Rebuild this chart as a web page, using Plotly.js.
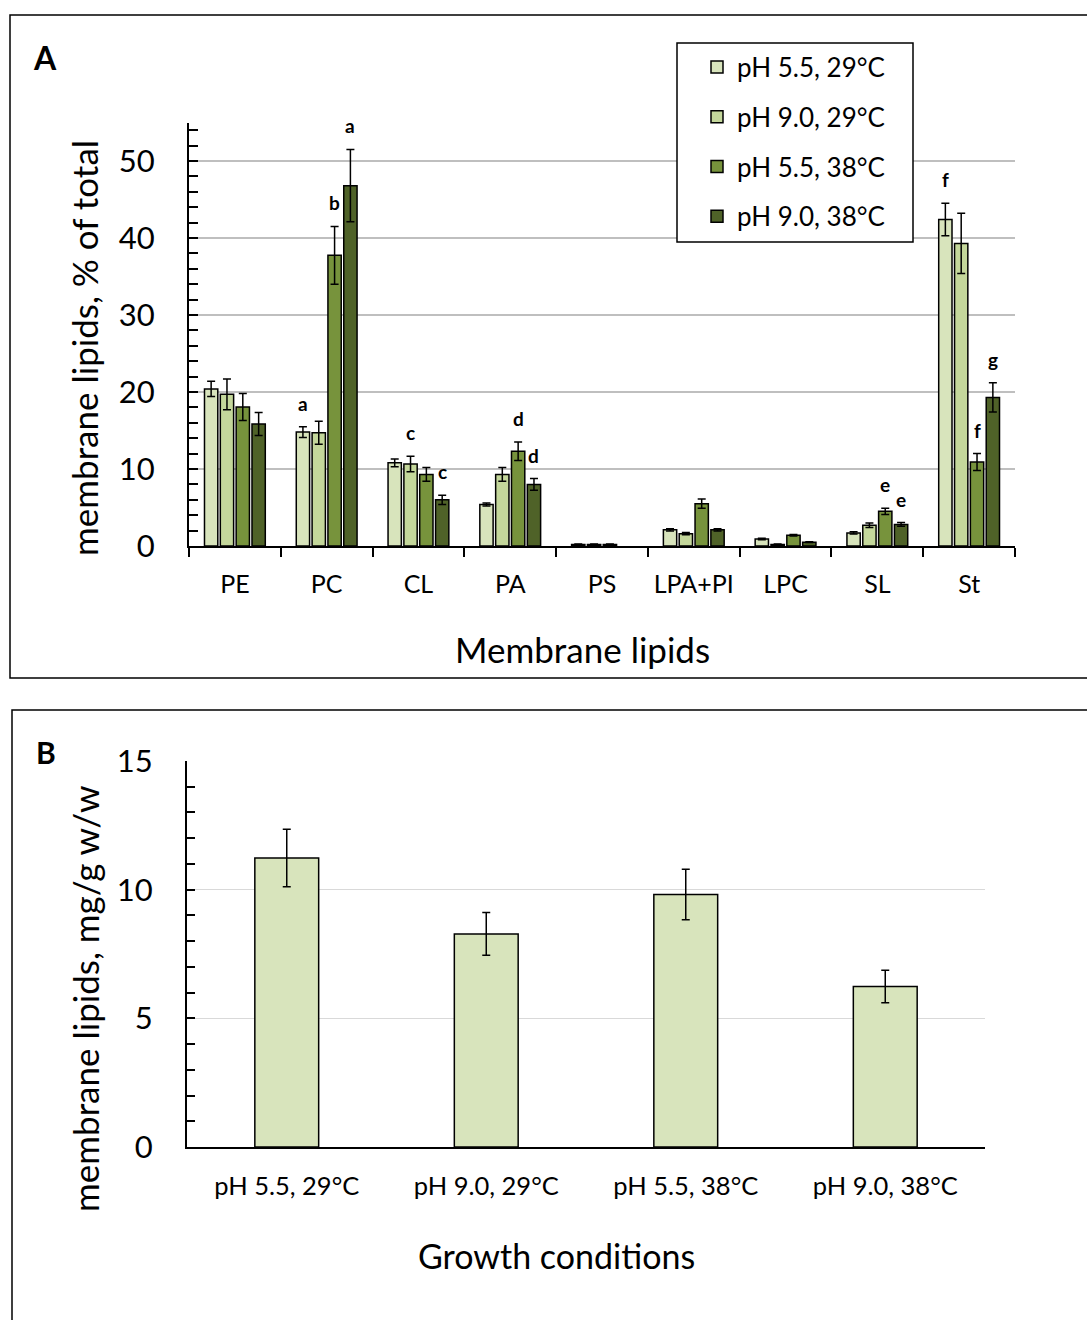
<!DOCTYPE html>
<html>
<head>
<meta charset="utf-8">
<script src="https://cdn.plot.ly/plotly-3.0.1.min.js"></script>
<style>html,body{margin:0;padding:0;background:#fff;}#chart{width:1087px;height:1320px;}</style>
</head>
<body>
<div id="chart"></div>
<script>
// ---------- Panel A data ----------
const lipids = ['PE','PC','CL','PA','PS','LPA+PI','LPC','SL','St'];
const seriesNames = ['pH 5.5, 29°C','pH 9.0, 29°C','pH 5.5, 38°C','pH 9.0, 38°C'];
const s1 = [20.4, 14.8, 10.8, 5.4, 0.2, 2.1, 0.9, 1.7, 42.4];
const s1Err = [1.0, 0.7, 0.5, 0.2, 0.05, 0.15, 0.1, 0.15, 2.1];
const s2 = [19.7, 14.7, 10.65, 9.3, 0.2, 1.6, 0.2, 2.7, 39.3];
const s2Err = [2.0, 1.5, 1.0, 0.9, 0.05, 0.15, 0.05, 0.3, 3.9];
const s3 = [18.05, 37.75, 9.3, 12.3, 0.2, 5.5, 1.4, 4.5, 10.9];
const s3Err = [1.75, 3.75, 0.9, 1.2, 0.05, 0.6, 0.1, 0.4, 1.1];
const s4 = [15.85, 46.8, 6.0, 8.0, null, 2.1, 0.5, 2.8, 19.3];
const s4Err = [1.5, 4.7, 0.6, 0.75, 0, 0.15, 0.05, 0.25, 1.9];
const seriesColors = ['#d8e4bc','#c4d79b','#77933c','#4f6228'];

// significance letters (category index, series index, text)
const letterCat = [1, 1, 1, 2, 2, 3, 3, 7, 7, 8, 8, 8];
const letterSeries = [0, 2, 3, 1, 3, 2, 3, 2, 3, 0, 2, 3];
const letterText = ['a','b','a','c','c','d','d','e','e','f','f','g'];

// ---------- Panel B data ----------
const conditions = ['pH 5.5, 29°C','pH 9.0, 29°C','pH 5.5, 38°C','pH 9.0, 38°C'];
const totals = [11.23, 8.28, 9.81, 6.24];
const totalsErr = [1.12, 0.83, 0.98, 0.63];

// ---------- layout helpers ----------
const W = 1087, H = 1320;
const px = v => v / W;
const py = v => 1 - v / H;
const FONT = 'Lato, "Open Sans", sans-serif';
const bargap = 0.31;

const allVals = [s1, s2, s3, s4];
const allErr = [s1Err, s2Err, s3Err, s4Err];

const traces = allVals.map((vals, i) => ({
  type: 'bar',
  x: lipids,
  y: vals,
  name: seriesNames[i],
  legendgroup: 'g' + i,
  xaxis: 'x', yaxis: 'y',
  marker: {color: seriesColors[i], line: {color: '#000', width: 1.5}},
  error_y: {type: 'data', array: allErr[i], visible: true, color: '#000', thickness: 1.5, width: 4}
}));

traces.push({
  type: 'bar',
  x: conditions,
  y: totals,
  xaxis: 'x2', yaxis: 'y2',
  width: 0.32,
  showlegend: false,
  marker: {color: '#d8e4bc', line: {color: '#000', width: 1.5}},
  error_y: {type: 'data', array: totalsErr, visible: true, color: '#000', thickness: 1.5, width: 4}
});

const slot = (1 - bargap) / 4;
const letterAnns = letterText.map((t, k) => {
  const c = letterCat[k], s = letterSeries[k];
  return {
    xref: 'x', yref: 'y',
    x: c + (s - 1.5) * slot,
    y: (allVals[s][c] || 0) + allErr[s][c],
    text: '<b>' + t + '</b>', showarrow: false,
    yanchor: 'bottom', yshift: 10,
    font: {family: FONT, size: 19, color: '#000'}
  };
});

const textAnns = [
  {x: px(45), y: py(57), text: '<b>A</b>', font: {family: FONT, size: 32, color: '#000'}},
  {x: px(46), y: py(752), text: '<b>B</b>', font: {family: FONT, size: 30, color: '#000'}},
  {x: px(84), y: py(348), text: 'membrane lipids, % of total', textangle: -90, font: {family: FONT, size: 35, color: '#000'}},
  {x: px(582), y: py(649), text: 'Membrane lipids', font: {family: FONT, size: 35, color: '#000'}},
  {x: px(85), y: py(999), text: 'membrane lipids, mg/g w/w', textangle: -90, font: {family: FONT, size: 35, color: '#000'}},
  {x: px(556), y: py(1255), text: 'Growth conditions', font: {family: FONT, size: 34, color: '#000'}}
].map(a => Object.assign({xref: 'paper', yref: 'paper', showarrow: false, xanchor: 'center', yanchor: 'middle'}, a));

const shapes = [
  {type: 'rect', xref: 'paper', yref: 'paper', x0: px(10), x1: px(1095), y0: py(15), y1: py(678), line: {color: '#000', width: 1.5}},
  {type: 'rect', xref: 'paper', yref: 'paper', x0: px(12), x1: px(1095), y0: py(710), y1: py(1330), line: {color: '#000', width: 1.5}},
  {type: 'rect', xref: 'paper', yref: 'paper', x0: px(677), x1: px(913), y0: py(43), y1: py(242), line: {color: '#000', width: 1.5}, fillcolor: '#fff', layer: 'above'}
];

const layout = {
  width: W, height: H,
  margin: {l: 0, r: 0, t: 0, b: 0},
  paper_bgcolor: '#fff', plot_bgcolor: 'rgba(0,0,0,0)',
  barmode: 'group', bargap: bargap, bargroupgap: 0.16,
  font: {family: FONT, color: '#000'},
  showlegend: true,
  legend: {
    x: px(697), xanchor: 'left', y: py(43.5), yanchor: 'top',
    bgcolor: 'rgba(0,0,0,0)', borderwidth: 0,
    font: {family: FONT, size: 26, color: '#000'},
    tracegroupgap: 13, traceorder: 'grouped'
  },
  xaxis: {
    domain: [px(189), px(1015)], anchor: 'y', type: 'category',
    showline: true, linecolor: '#000', linewidth: 2,
    ticks: 'outside', tickson: 'boundaries', ticklen: 9, tickwidth: 2, tickcolor: '#000',
    tickfont: {family: FONT, size: 25, color: '#000'}, ticklabelstandoff: 15,
    showgrid: false, zeroline: false, fixedrange: true
  },
  yaxis: {
    domain: [py(546), py(122.5)], anchor: 'x', range: [0, 55],
    tick0: 0, dtick: 10, showline: true, linecolor: '#000', linewidth: 2,
    ticks: 'inside', ticklen: 9, tickwidth: 2, tickcolor: '#000',
    minor: {dtick: 2, tick0: 0, ticks: 'inside', ticklen: 9, tickwidth: 2, tickcolor: '#000', showgrid: false},
    tickfont: {family: FONT, size: 31, color: '#000'}, ticklabelstandoff: 26,
    showgrid: true, gridcolor: '#bfbfbf', gridwidth: 2, zeroline: false, fixedrange: true
  },
  xaxis2: {
    domain: [px(187), px(985)], anchor: 'y2', type: 'category',
    showline: true, linecolor: '#000', linewidth: 2, ticks: '',
    tickfont: {family: FONT, size: 25.5, color: '#000'}, ticklabelstandoff: 15,
    showgrid: false, zeroline: false, fixedrange: true
  },
  yaxis2: {
    domain: [py(1147), py(761)], anchor: 'x2', range: [0, 15],
    tick0: 0, dtick: 5, showline: true, linecolor: '#000', linewidth: 2,
    ticks: 'inside', ticklen: 8, tickwidth: 2, tickcolor: '#000',
    minor: {dtick: 1, tick0: 0, ticks: 'inside', ticklen: 8, tickwidth: 2, tickcolor: '#000', showgrid: false},
    tickfont: {family: FONT, size: 31, color: '#000'}, ticklabelstandoff: 26,
    showgrid: true, gridcolor: '#d9d9d9', gridwidth: 1.5, zeroline: false, fixedrange: true
  },
  shapes: shapes,
  annotations: textAnns.concat(letterAnns)
};

Plotly.newPlot('chart', traces, layout, {displayModeBar: false, staticPlot: true});
</script>
</body>
</html>
